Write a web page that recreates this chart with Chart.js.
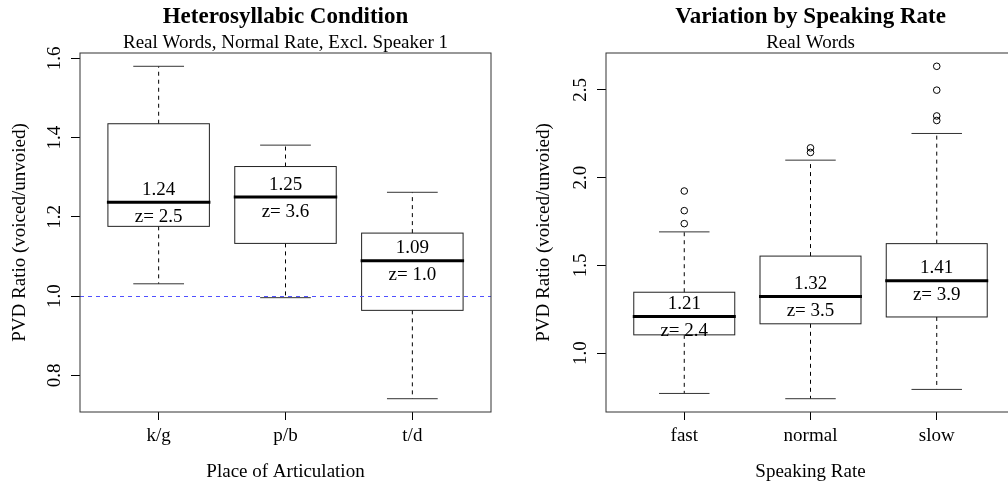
<!DOCTYPE html>
<html>
<head>
<meta charset="utf-8">
<script src="https://cdn.jsdelivr.net/npm/chart.js@4/dist/chart.umd.min.js"></script>
<style>
  body { margin: 0; background: #fff; overflow: hidden; width: 1008px; height: 485px; position: relative; }
  .painel { position: absolute; top: 0; }
</style>
</head>
<body>
<div class="painel" style="left:0"><canvas id="grafico1" width="504" height="485"></canvas></div>
<div class="painel" style="left:504px"><canvas id="grafico2" width="516" height="485"></canvas></div>
<script>
// ---- dados ----

// painel da esquerda: ponto de articulação
var places = ["k/g", "p/b", "t/d"];
var placeLow = [1.031, 0.996, 0.741];
var placeQ1 = [1.176, 1.133, 0.964];
var placeMed = [1.237, 1.250, 1.089];
var placeQ3 = [1.435, 1.327, 1.159];
var placeHigh = [1.580, 1.381, 1.262];
var placeMedLabels = ["1.24", "1.25", "1.09"];
var placeZ = ["z= 2.5", "z= 3.6", "z= 1.0"];
var placeOutliers = [[], [], []];
var placeTicks = [0.8, 1.0, 1.2, 1.4, 1.6];
var refLine = 1.0;

// painel da direita: velocidade de fala
var rates = ["fast", "normal", "slow"];
var rateLow = [0.770, 0.740, 0.793];
var rateQ1 = [1.104, 1.167, 1.206];
var rateMed = [1.208, 1.322, 1.413];
var rateQ3 = [1.347, 1.553, 1.624];
var rateHigh = [1.691, 2.100, 2.252];
var rateMedLabels = ["1.21", "1.32", "1.41"];
var rateZ = ["z= 2.4", "z= 3.5", "z= 3.9"];
var rateOutliers = [[1.738, 1.812, 1.924], [2.144, 2.170], [2.326, 2.352, 2.499, 2.635]];
var rateTicks = [1.0, 1.5, 2.0, 2.5];

var fonte = '"Liberation Serif", "Times New Roman", serif';
Chart.defaults.font.family = fonte;
Chart.defaults.color = "#000";

// faixa do eixo como no R (4% de folga)
function faixa(low, high, outs) {
  var todos = low.concat(high);
  outs.forEach(function(o) { todos = todos.concat(o); });
  var mn = Math.min.apply(null, todos);
  var mx = Math.max.apply(null, todos);
  var d = (mx - mn) * 0.04;
  return [mn - d, mx + d];
}

// plugin que desenha as caixas, bigodes e textos usando as escalas
var boxPlugin = {
  id: "boxes",
  beforeDatasetsDraw: function(chart) {
    var b = chart.options.plugins.boxes;
    var xs = chart.scales.x, ys = chart.scales.y;
    var ctx = chart.ctx;
    ctx.save();
    for (var i = 0; i < b.low.length; i++) {
      var xl = xs.getPixelForValue(i + 1 - 0.4);
      var xr = xs.getPixelForValue(i + 1 + 0.4);
      var xc = xs.getPixelForValue(i + 1);
      var sl = xs.getPixelForValue(i + 1 - 0.2);
      var sr = xs.getPixelForValue(i + 1 + 0.2);
      var yLow = ys.getPixelForValue(b.low[i]);
      var yQ1 = ys.getPixelForValue(b.q1[i]);
      var yMed = ys.getPixelForValue(b.med[i]);
      var yQ3 = ys.getPixelForValue(b.q3[i]);
      var yHigh = ys.getPixelForValue(b.high[i]);

      // bigodes tracejados
      ctx.strokeStyle = "#000";
      ctx.lineWidth = 1;
      ctx.setLineDash([4, 4]);
      ctx.beginPath();
      ctx.moveTo(xc, yQ3); ctx.lineTo(xc, yHigh);
      ctx.moveTo(xc, yQ1); ctx.lineTo(xc, yLow);
      ctx.stroke();
      ctx.setLineDash([]);

      // tracinhos das pontas
      ctx.strokeStyle = "#333";
      ctx.beginPath();
      ctx.moveTo(sl, yHigh); ctx.lineTo(sr, yHigh);
      ctx.moveTo(sl, yLow); ctx.lineTo(sr, yLow);
      ctx.stroke();

      // caixa
      ctx.strokeStyle = "#222";
      ctx.strokeRect(xl, yQ3, xr - xl, yQ1 - yQ3);

      // mediana
      ctx.strokeStyle = "#000";
      ctx.lineWidth = 3;
      ctx.beginPath();
      ctx.moveTo(xl - 1, yMed); ctx.lineTo(xr + 1, yMed);
      ctx.stroke();
      ctx.lineWidth = 1;
    }
    ctx.restore();
  },
  afterDatasetsDraw: function(chart) {
    var b = chart.options.plugins.boxes;
    var xs = chart.scales.x, ys = chart.scales.y;
    var ctx = chart.ctx;
    var area = chart.chartArea;
    ctx.save();

    // linha de referência azul (por cima das caixas, como o abline)
    if (b.ref !== null) {
      var yr = Math.round(ys.getPixelForValue(b.ref)) + 0.5;
      ctx.strokeStyle = "#5050ff";
      ctx.lineWidth = 1;
      ctx.setLineDash([4, 4]);
      ctx.beginPath();
      ctx.moveTo(area.left, yr);
      ctx.lineTo(area.right, yr);
      ctx.stroke();
      ctx.setLineDash([]);
    }

    ctx.fillStyle = "#000";
    ctx.font = "19px " + fonte;
    ctx.textAlign = "center";
    ctx.textBaseline = "alphabetic";
    for (var i = 0; i < b.med.length; i++) {
      var xc = xs.getPixelForValue(i + 1);
      var yMed = ys.getPixelForValue(b.med[i]);
      ctx.fillText(b.medLabels[i], xc, yMed - 7.5);
      ctx.fillText(b.z[i], xc, yMed + 19.5);
    }

    // rótulos do eixo y, girados como no R
    ys.ticks.forEach(function(t) {
      var py = ys.getPixelForValue(t.value);
      ctx.save();
      ctx.translate(area.left - 20, py);
      ctx.rotate(-Math.PI / 2);
      ctx.fillText(t.value.toFixed(1), 0, 0);
      ctx.restore();
    });

    // moldura do gráfico
    ctx.strokeStyle = "#333";
    ctx.lineWidth = 1;
    ctx.strokeRect(area.left, area.top, area.right - area.left, area.bottom - area.top);
    ctx.restore();
  }
};

function montarGrafico(id, cfg) {
  var lim = faixa(cfg.low, cfg.high, cfg.outliers);
  var pontos = [];
  cfg.outliers.forEach(function(lista, i) {
    lista.forEach(function(v) { pontos.push({ x: i + 1, y: v }); });
  });

  return new Chart(document.getElementById(id), {
    type: "scatter",
    data: {
      datasets: [{
        data: pontos,
        pointStyle: "circle",
        pointRadius: 3.3,
        borderColor: "#000",
        borderWidth: 1,
        backgroundColor: "rgba(0,0,0,0)"
      }]
    },
    plugins: [boxPlugin],
    options: {
      responsive: false,
      animation: false,
      events: [],
      layout: { padding: { left: 0, right: cfg.padRight, top: 0, bottom: 0 } },
      plugins: {
        legend: { display: false },
        tooltip: { enabled: false },
        title: {
          display: true,
          text: cfg.title,
          fullSize: false,
          color: "#000",
          font: { size: 23, weight: "bold", lineHeight: 1 },
          padding: { top: 5.5, bottom: 0 }
        },
        subtitle: {
          display: true,
          text: cfg.subtitle,
          fullSize: false,
          color: "#000",
          font: { size: 19, lineHeight: 1 },
          padding: { top: 5, bottom: 0.5 }
        },
        boxes: {
          low: cfg.low, q1: cfg.q1, med: cfg.med, q3: cfg.q3, high: cfg.high,
          medLabels: cfg.medLabels, z: cfg.z, ref: cfg.ref
        }
      },
      scales: {
        x: {
          type: "linear",
          min: 0.38,
          max: 3.62,
          afterBuildTicks: function(s) {
            s.ticks = cfg.cats.map(function(c, i) { return { value: i + 1 }; });
          },
          afterFit: function(s) { s.height = 73; },
          ticks: {
            autoSkip: false,
            maxRotation: 0,
            padding: 6.4,
            color: "#000",
            font: { size: 19, lineHeight: 1 },
            callback: function(v, i) { return cfg.cats[i]; }
          },
          grid: { drawOnChartArea: false, drawTicks: true, tickLength: 8, color: "#000" },
          border: { display: false },
          title: {
            display: true,
            text: cfg.xTitle,
            color: "#000",
            font: { size: 19, lineHeight: 1 },
            padding: { top: 0, bottom: 3.6 }
          }
        },
        y: {
          type: "linear",
          min: lim[0],
          max: lim[1],
          afterBuildTicks: function(s) {
            s.ticks = cfg.ticks.map(function(v) { return { value: v }; });
          },
          afterFit: function(s) { s.width = cfg.yWidth; },
          ticks: { display: false },
          grid: { drawOnChartArea: false, drawTicks: true, tickLength: 9, color: "#000" },
          border: { display: false },
          title: {
            display: true,
            text: "PVD Ratio (voiced/unvoied)",
            color: "#000",
            font: { size: 19, lineHeight: 1 },
            padding: { top: cfg.yTitlePad, bottom: 0 }
          }
        }
      }
    }
  });
}

montarGrafico("grafico1", {
  cats: places, low: placeLow, q1: placeQ1, med: placeMed, q3: placeQ3, high: placeHigh,
  medLabels: placeMedLabels, z: placeZ, outliers: placeOutliers, ticks: placeTicks, ref: refLine,
  title: "Heterosyllabic Condition", subtitle: "Real Words, Normal Rate, Excl. Speaker 1",
  xTitle: "Place of Articulation", yWidth: 80, yTitlePad: 10.1, padRight: 13
});

montarGrafico("grafico2", {
  cats: rates, low: rateLow, q1: rateQ1, med: rateMed, q3: rateQ3, high: rateHigh,
  medLabels: rateMedLabels, z: rateZ, outliers: rateOutliers, ticks: rateTicks, ref: null,
  title: "Variation by Speaking Rate", subtitle: "Real Words",
  xTitle: "Speaking Rate", yWidth: 102, yTitlePad: 30.1, padRight: 3
});
</script>
</body>
</html>
